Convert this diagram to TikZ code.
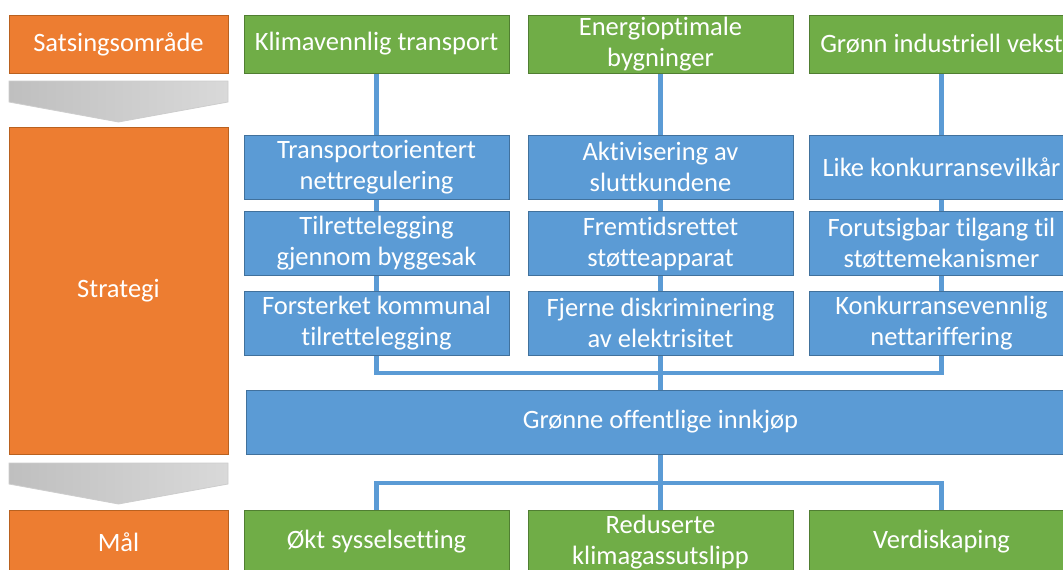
\documentclass[tikz,border=0pt]{standalone}
\usepackage{fontspec}
\setmainfont{Carlito}[Ligatures=CommonOff]
\usetikzlibrary{backgrounds}
\definecolor{boxorange}{HTML}{ED7D31}
\definecolor{boxorangeline}{HTML}{B9611F}
\definecolor{boxgreen}{HTML}{70AD47}
\definecolor{boxgreenline}{HTML}{507E32}
\definecolor{boxblue}{HTML}{5B9BD5}
\definecolor{boxblueline}{HTML}{41719C}
\definecolor{arrowgrayA}{HTML}{BFBFBF}
\definecolor{arrowgrayB}{HTML}{D9D9D9}
\definecolor{arrowline}{HTML}{CDCDCD}

\begin{document}
\begin{tikzpicture}[x=1pt, y=-1pt,
    box/.style={draw, line width=1pt, text=white, align=center, inner sep=0pt,
        font=\fontsize{26.5}{31}\selectfont},
    orangebox/.style={box, fill=boxorange, draw=boxorangeline, minimum width=219pt},
    greenbox/.style={box, fill=boxgreen, draw=boxgreenline, minimum width=265pt, minimum height=58pt},
    bluebox/.style={box, fill=boxblue, draw=boxblueline, minimum width=265pt, minimum height=64pt},
    link/.style={draw=boxblue, line width=4.5pt}]
    \useasboundingbox (0,0) rectangle (1063,570);
    \node[orangebox, minimum height=58pt] (sats) at (118.5,44) {Satsingsområde};
    \node[orangebox, minimum height=327pt] (strategi) at (118.5,290.5) {Strategi};
    \node[orangebox, minimum height=64pt] (maal) at (118.5,542) {Mål};
    \shadedraw[left color=arrowgrayA, right color=arrowgrayB, draw=arrowline, line width=0.8pt]
        (9,81) -- (228,81) -- (228,102) -- (118.5,122) -- (9,102) -- cycle;
    \shadedraw[left color=arrowgrayA, right color=arrowgrayB, draw=arrowline, line width=0.8pt]
        (9,463) -- (228,463) -- (228,484) -- (118.5,504) -- (9,484) -- cycle;
    \node[greenbox] (klima) at (376.5,44) {Klimavennlig transport};
    \node[greenbox] (energi) at (660.5,44) {Energioptimale\\bygninger};
    \node[greenbox] (vekst) at (941.5,44) {Grønn industriell vekst};
    \node[bluebox] (transport) at (376.5,167) {Transportorientert\\nettregulering};
    \node[bluebox] (byggesak) at (376.5,243.5) {Tilrettelegging\\gjennom byggesak};
    \node[bluebox] (kommunal) at (376.5,323) {Forsterket kommunal\\tilrettelegging};
    \node[bluebox] (aktiv) at (660.5,167) {Aktivisering av\\sluttkundene};
    \node[bluebox] (stotte) at (660.5,243.5) {Fremtidsrettet\\støtteapparat};
    \node[bluebox] (fjerne) at (660.5,323) {Fjerne diskriminering\\av elektrisitet};
    \node[bluebox] (vilkar) at (941.5,167) {Like konkurransevilkår};
    \node[bluebox] (tilgang) at (941.5,243.5) {Forutsigbar tilgang til\\støttemekanismer};
    \node[bluebox] (tariff) at (941.5,323) {Konkurransevennlig\\nettariffering};
    \node[bluebox, minimum width=828pt] (innkjop) at (660.5,422) {Grønne offentlige innkjøp};
    \node[greenbox, minimum height=64pt] (okt) at (376.5,542) {Økt sysselsetting};
    \node[greenbox, minimum height=64pt] (redusert) at (660.5,542) {Reduserte\\klimagassutslipp};
    \node[greenbox, minimum height=64pt] (verdi) at (941.5,542) {Verdiskaping};
    \begin{scope}[on background layer]
        \coordinate (topbus) at (660.5,373);
        \coordinate (lowbus) at (660.5,483);
        \draw[link] (klima.south) |- (topbus) -| (vekst.south);
        \draw[link] (energi.south) -- (innkjop.north);
        \draw[link] (okt.north) |- (lowbus) -| (verdi.north);
        \draw[link] (innkjop.south) -- (redusert.north);
    \end{scope}
\end{tikzpicture}
\end{document}
